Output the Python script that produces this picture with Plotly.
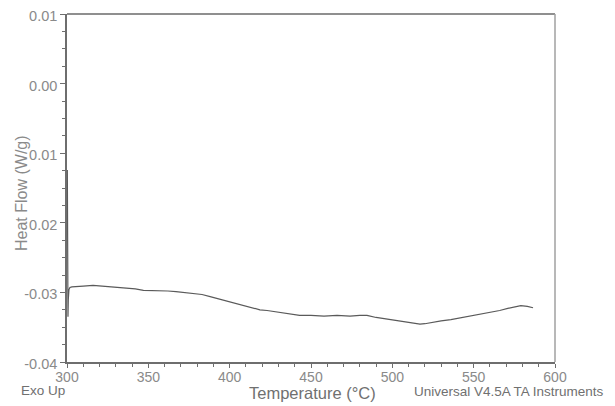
import plotly.graph_objects as go

# Data
temperature = [300.2, 300.4, 300.6, 300.8, 301.2, 301.8, 303, 306, 310, 316, 322, 330, 337, 342, 347,
               352, 357, 362, 367, 372, 377.5, 383, 388, 393, 398, 403, 408, 413, 418.6, 423,
               428, 433, 438, 443, 450, 458, 466, 474, 480, 484.4, 490, 496, 502, 508, 513,
               517, 520, 524, 530, 536, 541, 546, 551, 556, 561, 566, 571, 576.6, 579, 583, 586.5]
heat_flow = [-0.0124, -0.0300, -0.0335, -0.0310, -0.0296, -0.0293, -0.0292, -0.0292, -0.0291, -0.0290,
             -0.0291, -0.0292, -0.0294, -0.0295, -0.0297, -0.0297, -0.0298, -0.0298, -0.0299, -0.0300,
             -0.0301, -0.0303, -0.0306, -0.0309, -0.0313, -0.0316, -0.0319, -0.0322, -0.0325, -0.0326,
             -0.0328, -0.0330, -0.0332, -0.0333, -0.0333, -0.0334, -0.0333, -0.0334, -0.0333, -0.0333,
             -0.0336, -0.0338, -0.0340, -0.0342, -0.0344, -0.03455, -0.0345, -0.0343, -0.0341, -0.0339,
             -0.0337, -0.0335, -0.0332, -0.0330, -0.0328, -0.0326, -0.0323, -0.0320, -0.0319, -0.0320, -0.0322]

x_ticks = [300, 350, 400, 450, 500, 550, 600]
y_ticks = [-0.04, -0.03, -0.02, -0.01, 0.00, 0.01]
y_tick_labels = ["-0.04", "-0.03", "0.02", "0.01", "0.00", "0.01"]

axis_col = "#6e6e6e"
text_col = "#8a8a8a"
font_fam = "Liberation Sans, Arial, sans-serif"

# plot area in window pixels: x 67..555, y 14..362 (page body has an 8px margin)
PL, PR, PT, PB = 67, 555, 14, 362
OFF = 8
W, H = 615 - OFF, 406 - OFF


def px(x):
    return (x - PL) / (PR - PL)


def py(y):
    return (PB - y) / (PB - PT)


fig = go.Figure()
fig.add_trace(go.Scatter(x=temperature, y=heat_flow, mode="lines",
                         line=dict(color="#5a5a5a", width=1.2), showlegend=False))

fig.update_layout(
    width=W, height=H,
    margin=dict(l=PL - OFF, r=615 - PR, t=PT - OFF, b=406 - PB),
    paper_bgcolor="white", plot_bgcolor="white",
    font=dict(family=font_fam, color=text_col, size=14),
    xaxis=dict(range=[300, 600.0001], tickvals=x_ticks, ticks="outside", ticklen=4,
               tickcolor=axis_col, showline=True, linecolor=axis_col, linewidth=1.5,
               mirror=False, showgrid=False, zeroline=False, ticklabelstandoff=-3,
               ticklabeloverflow="allow", automargin=False,
               tickfont=dict(size=14, color=text_col),
               minor=dict(dtick=10, ticks="outside", ticklen=3, tickcolor=axis_col)),
    yaxis=dict(range=[-0.04, 0.0100001], tickvals=y_ticks, ticktext=y_tick_labels,
               ticks="outside", ticklen=5, tickcolor=axis_col, showline=True,
               linecolor=axis_col, linewidth=1.5, showgrid=False, zeroline=False,
               ticklabeloverflow="allow", automargin=False, ticklabelshift=2,
               tickfont=dict(size=14.5, color=text_col),
               minor=dict(dtick=0.0025, ticks="outside", ticklen=3, tickcolor=axis_col)),
)

# top and right border
fig.add_shape(type="line", xref="paper", yref="paper", x0=0, x1=1, y0=1, y1=1,
              line=dict(color="#6a6a6a", width=1.5))
fig.add_shape(type="line", xref="paper", yref="paper", x0=1, x1=1, y0=0, y1=1,
              line=dict(color="#a0a0a0", width=1.5))

fig.add_annotation(text="Heat Flow (W/g)", textangle=-90, xref="paper", yref="paper",
                   x=px(21), y=py(193), showarrow=False,
                   xanchor="center", yanchor="middle",
                   font=dict(size=16, color=text_col, family=font_fam))
fig.add_annotation(text="Temperature (°C)", xref="paper", yref="paper",
                   x=px(312), y=py(393), showarrow=False,
                   xanchor="center", yanchor="middle",
                   font=dict(size=16.5, color="#707070", family=font_fam))
fig.add_annotation(text="Exo Up", xref="paper", yref="paper",
                   x=px(67), y=py(390), showarrow=False,
                   xanchor="right", yanchor="middle",
                   font=dict(size=13.5, color="#707070", family=font_fam))
fig.add_annotation(text="Universal V4.5A TA Instruments", xref="paper", yref="paper",
                   x=px(606), y=py(391), showarrow=False,
                   xanchor="right", yanchor="middle",
                   font=dict(size=13.5, color="#707070", family=font_fam))

fig.write_html("out.html")
